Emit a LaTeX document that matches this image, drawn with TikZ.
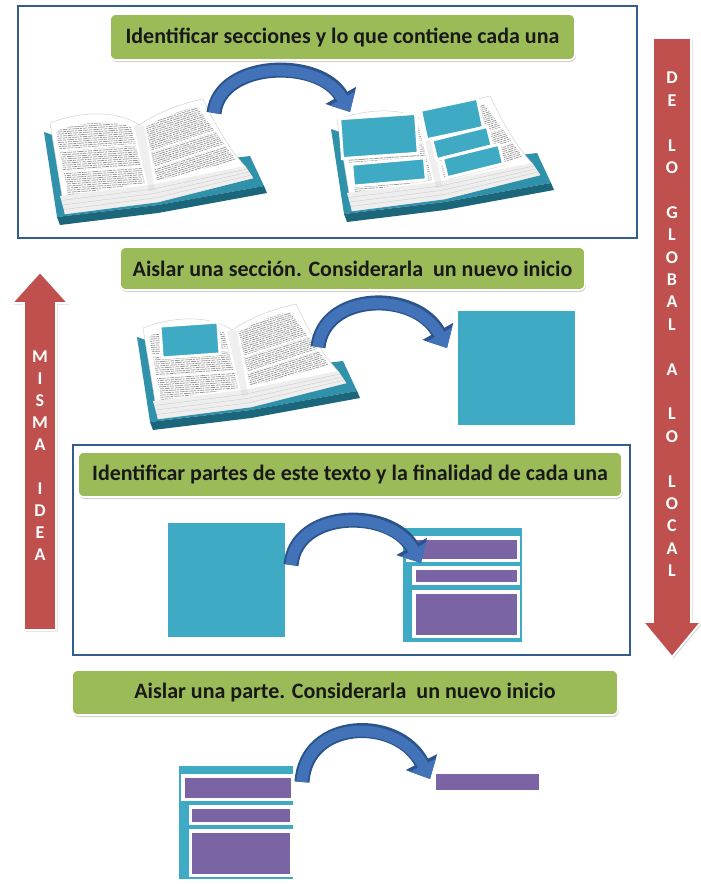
\documentclass[tikz,border=0pt]{standalone}
\usepackage{fontspec}
\setmainfont{Carlito}
\usetikzlibrary{arrows.meta,shadows}

\definecolor{frameblue}{RGB}{52,92,140}
\definecolor{olivebox}{RGB}{155,187,89}
\definecolor{aquatile}{RGB}{62,170,196}
\definecolor{violettile}{RGB}{123,100,164}
\definecolor{arrowred}{RGB}{192,80,77}
\definecolor{arcblue}{RGB}{66,114,184}
\definecolor{arcdark}{RGB}{44,84,140}
\definecolor{bookcover}{RGB}{48,145,170}
\definecolor{bookedge}{RGB}{28,102,124}

\newcommand{\headfont}{\fontsize{22}{24}\selectfont\bfseries}

\tikzset{
  frame/.style={draw=frameblue, line width=2pt, inner sep=0pt},
  headbox/.style={rounded corners=6pt, fill=olivebox, draw=white, line width=1.6pt,
    inner sep=0pt, text=black!90, font=\headfont,
    drop shadow={opacity=0.35, shadow xshift=0.8pt, shadow yshift=-2pt}},
  tile/.style={fill=aquatile, draw=white, line width=3pt, inner sep=0pt,
    drop shadow={opacity=0.3, shadow xshift=1pt, shadow yshift=-1.8pt}},
  bar/.style={fill=violettile, draw=white, line width=3.5pt, inner sep=0pt,
    drop shadow={opacity=0.3, shadow xshift=0.8pt, shadow yshift=-1.5pt}},
  bigarrow/.style={fill=arrowred, draw=white, line width=1.8pt,
    drop shadow={opacity=0.3, shadow xshift=1.5pt, shadow yshift=-1.5pt}},
  letter/.style={text=white, font=\bfseries\fontsize{18}{18}\selectfont, inner sep=0pt},
  arcout/.style={line width=15pt, draw=arcdark, -{Triangle[width=34pt,length=19pt]}},
  arcin/.style={line width=11pt, draw=arcblue, -{Triangle[width=28pt,length=15.5pt]}},
  textline/.style={draw=gray!80, line width=0.75pt,
    dash pattern=on 5pt off 0.8pt on 3pt off 1pt on 7pt off 0.8pt on 2pt off 1pt on 4pt off 0.9pt},
  book/.pic={
    % cover: face and darker thickness
    \fill[bookcover] (44,132) -- (57,217) -- (158,205) -- (264,186) -- (250,156) -- (150,168) -- cycle;
    \fill[bookedge] (57,217) -- (60,225) -- (158,213) -- (267,193) -- (264,186) -- (158,205) -- cycle;
    % page block
    \filldraw[fill=white, draw=gray!35, line width=0.5pt]
      (50,123) .. controls (80,111) and (118,110) .. (139,125)
      .. controls (160,111) and (184,103) .. (203,99)
      .. controls (214,122) and (228,148) .. (245,166) -- (253,178)
      -- (158,202) -- (65,214) -- cycle;
    % page edges at the bottom
    \fill[gray!13] (60,196) -- (150,185) -- (245,166) -- (253,178) -- (158,202) -- (65,214) -- cycle;
    \foreach \f in {0.25,0.5,0.75}
      \draw[gray!40, line width=0.4pt] ({60+5*\f},{196+18*\f}) -- ({150+8*\f},{185+17*\f}) -- ({245+8*\f},{166+12*\f});
    % printed text, left page
    \begin{scope}
      \clip (56,131) .. controls (80,122) and (112,120) .. (131,127) -- (145,183) -- (68,195) -- cycle;
      \foreach \r [evaluate=\r as \ph using {mod(\r*5.3,21)}] in {0,...,38}
        \draw[textline, dash phase=\ph pt] (48,{118+\r*2.1}) -- ++(105,-7);
      \draw[white, line width=2pt] (50,151) -- (145,144);
      \draw[white, line width=2pt] (50,173) -- (150,166);
    \end{scope}
    % printed text, right page
    \begin{scope}
      \clip (146,127) .. controls (165,116) and (182,110) .. (197,107) -- (236,160) -- (157,181) -- cycle;
      \foreach \r [evaluate=\r as \ph using {mod(\r*7.1,21)}] in {0,...,44}
        \draw[textline, dash phase=\ph pt] (140,{118+\r*2.1}) -- ++(100,-32);
      \draw[white, line width=2pt] (140,155) -- (240,123);
      \draw[white, line width=2pt] (140,172) -- (240,140);
    \end{scope}
    % soft shadow along the spine
    \fill[gray!40, opacity=0.3] (134,126) -- (139,125) -- (144,126) -- (155,190) -- (149,191) -- cycle;
  }
}

\begin{document}
\begin{tikzpicture}[x=1pt,y=-1pt]
\fill[white] (0,0) rectangle (701,884);
\useasboundingbox (0,0) rectangle (701,884);

% frames around the first and third steps
\node[frame, minimum width=619pt, minimum height=232pt] (topframe) at (327.5,122) {};
\node[frame, minimum width=557pt, minimum height=210pt] (midframe) at (351.5,550) {};

% side arrows
\path[bigarrow] (24,630) -- (24,303) -- (12,303) -- (40,272) -- (68,303) -- (56,303) -- (56,630) -- cycle;
\foreach \ch [count=\i] in {M,I,S,M,A,{},I,D,E,A}
  \node[letter] (up\i) at (40,{357+22*(\i-1)}) {\ch};

\path[bigarrow] (653,38) -- (691,38) -- (691,622) -- (701,622) -- (672,657) -- (643,622) -- (653,622) -- cycle;
\foreach \ch [count=\i] in {D,E,{},L,O,{},G,L,O,B,A,L,{},A,{},L,O,{},L,O,C,A,L}
  \node[letter] (down\i) at (672,{78+22.4*(\i-1)}) {\ch};

% step titles
\node[headbox, minimum width=465pt, minimum height=46pt] (step1) at (342.5,37)
  {Identificar secciones y lo que contiene cada una};
\node[headbox, minimum width=465pt, minimum height=43pt] (step2) at (352.5,268.5)
  {Aislar una sección. Considerarla\ \ un nuevo inicio};
\node[headbox, minimum width=544pt, minimum height=45pt] (step3) at (350,474.5)
  {Identificar partes de este texto y la finalidad de cada una};
\node[headbox, minimum width=546pt, minimum height=45pt] (step4) at (345,692.5)
  {Aislar una parte. Considerarla\ \ un nuevo inicio};

% step 1: whole book, then book split into sections
\pic (bookA) at (0,0) {book};
\pic (bookB) at (287,-3) {book};
\node[tile, minimum width=76pt, minimum height=40pt, rotate=4] (secA) at (379,136) {};
\node[tile, minimum width=73pt, minimum height=22pt, rotate=5] (secB) at (389,172) {};
\node[tile, minimum width=58pt, minimum height=30pt, rotate=12] (secC) at (452,119) {};
\node[tile, minimum width=57pt, minimum height=20pt, rotate=14] (secD) at (462,143) {};
\node[tile, minimum width=58pt, minimum height=20pt, rotate=14] (secE) at (473,161) {};

% step 2: one section taken out of the book
\pic (bookC) at (93,205) {book};
\node[tile, minimum width=58pt, minimum height=32pt, rotate=4] (secF) at (190,340) {};
\node[tile, minimum width=120pt, minimum height=117pt] (section) at (516.5,368) {};

% step 3: the section and its parts
\node[tile, minimum width=120pt, minimum height=117pt] (section2) at (226.5,580) {};
\node[tile, minimum width=122pt, minimum height=117pt] (parts) at (462.5,585) {};
\node[bar, minimum width=110.5pt, minimum height=22.5pt] (partA) at (463,549) {};
\node[bar, minimum width=104.5pt, minimum height=15.5pt] (partB) at (466,575.5) {};
\node[bar, minimum width=104.5pt, minimum height=44.5pt] (partC) at (466,614) {};

% step 4: one part taken out
\node[tile, minimum width=117pt, minimum height=116pt] (parts2) at (236,822.5) {};
\node[bar, minimum width=109.5pt, minimum height=23.5pt] (partD) at (237.5,787.5) {};
\node[bar, minimum width=101.5pt, minimum height=16.5pt] (partE) at (241,815) {};
\node[bar, minimum width=101.5pt, minimum height=44.5pt] (partF) at (241,853) {};
\node[bar, minimum width=106pt, minimum height=19.5pt] (onepart) at (487.5,781.5) {};

% curved arrows
\coordinate (a1s) at (214,113); \coordinate (a1e) at (350,112);
\coordinate (a2s) at (318,347); \coordinate (a2e) at (447,348);
\coordinate (a3s) at (291,565); \coordinate (a3e) at (421,563);
\coordinate (a4s) at (302,782); \coordinate (a4e) at (430,779);
\foreach \s in {arcout,arcin} {
  \draw[\s] (a1s) .. controls (220,60) and (320,58) .. (a1e);
  \draw[\s] (a2s) .. controls (324,292) and (415,290) .. (a2e);
  \draw[\s] (a3s) .. controls (296,509) and (390,508) .. (a3e);
  \draw[\s] (a4s) .. controls (306,718) and (398,716) .. (a4e);
}
\end{tikzpicture}
\end{document}
